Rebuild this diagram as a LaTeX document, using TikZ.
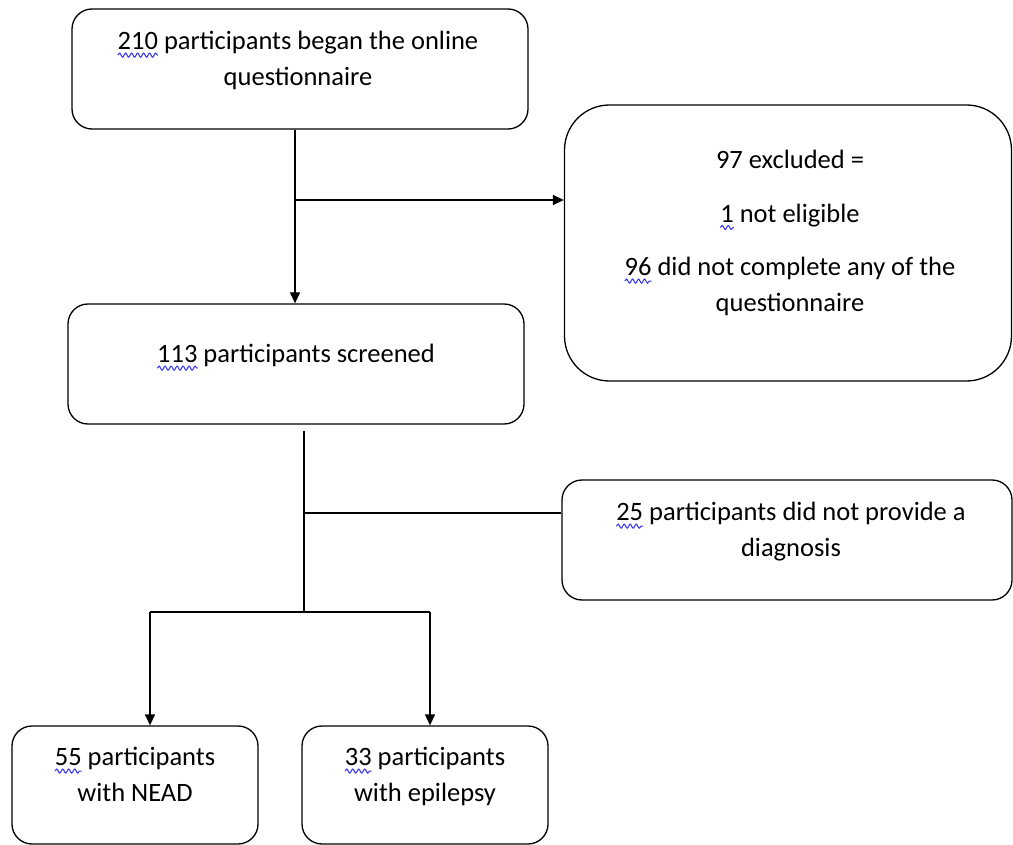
\documentclass[tikz,border=0pt]{standalone}
\usepackage{fontspec}
\setmainfont{Carlito}
\usepackage{tikz}
\usetikzlibrary{positioning,calc,arrows.meta,decorations.pathmorphing}
\definecolor{spell_blue}{HTML}{3a3af2}
\tikzset{BOX/.style={rectangle,rounded corners=20pt,draw,line width=1.3pt,minimum width=456pt,minimum height=120pt,inner sep=0pt}}
\tikzset{TXT/.style={align=center,anchor=north,inner sep=0pt,font=\fontsize{26.5}{35.5}\selectfont}}
\tikzset{ARROW/.style={line width=1.3pt,-{Triangle[length=11pt,width=10pt]}}}
\tikzset{LINE/.style={line width=1.3pt}}
\newcommand{\spellnum}[1]{\tikz[baseline=(w.base)]{\node[inner sep=0pt,outer sep=0pt] (w) {#1};\draw[overlay,spell_blue,line width=1.1pt,decorate,decoration={snake,amplitude=2pt,segment length=6pt}] ([yshift=-5pt]w.south west) -- ([yshift=-5pt]w.south east);}}

\begin{document}
\begin{tikzpicture}[x=1pt,y=-1pt]
\useasboundingbox (0,0) rectangle (1013,845);

\node[BOX] (n_start) at (300,69) {};
\node[BOX, minimum width=447pt, minimum height=276pt, rounded corners=45pt] (n_excl) at (788,243) {};
\node[BOX] (n_screen) at (296,364) {};
\node[BOX, minimum width=450pt] (n_nodiag) at (787,540) {};
\node[BOX, minimum width=246pt, minimum height=118pt] (n_nead) at (135,785) {};
\node[BOX, minimum width=246pt, minimum height=118pt] (n_epi) at (425,785) {};

\node[TXT] (t_start) at ($(n_start.north)+(-2,23)$) {\spellnum{210} participants began the online\\questionnaire};
\node[TXT] (t_excl) at ($(n_excl.north)+(2,46)$) {97 excluded =\\[18pt]\spellnum{1} not eligible\\[18pt]\spellnum{96} did not complete any of the\\questionnaire};
\node[TXT] (t_screen) at ($(n_screen.north)+(0,41)$) {\spellnum{113} participants screened};
\node[TXT] (t_nodiag) at ($(n_nodiag.north)+(4,23)$) {\spellnum{25} participants did not provide a\\diagnosis};
\node[TXT] (t_nead) at ($(n_nead.north)+(0,22)$) {\spellnum{55} participants\\with NEAD};
\node[TXT] (t_epi) at ($(n_epi.north)+(0,22)$) {\spellnum{33} participants\\with epilepsy};

% first split
\coordinate (c_top) at ($(n_start.south)+(-5,0)$);
\draw[ARROW] (c_top) -- (c_top |- n_screen.north);
\coordinate (c_excl) at (295,200);
\draw[ARROW] (c_excl) -- (c_excl -| n_excl.west);

% second split
\coordinate (c_screen) at ($(n_screen.south)+(8,6)$);
\coordinate (c_split) at (304,612);
\draw[LINE] (c_screen) -- (c_split);
\coordinate (c_nodiag) at (304,513);
\draw[LINE] (c_nodiag) -- (c_nodiag -| n_nodiag.west);

\coordinate (c_nead) at (150,612);
\coordinate (c_epi) at (430,612);
\draw[LINE] (c_nead) -- (c_epi);
\draw[ARROW] (c_nead) -- (c_nead |- n_nead.north);
\draw[ARROW] (c_epi) -- (c_epi |- n_epi.north);

\end{tikzpicture}
\end{document}
